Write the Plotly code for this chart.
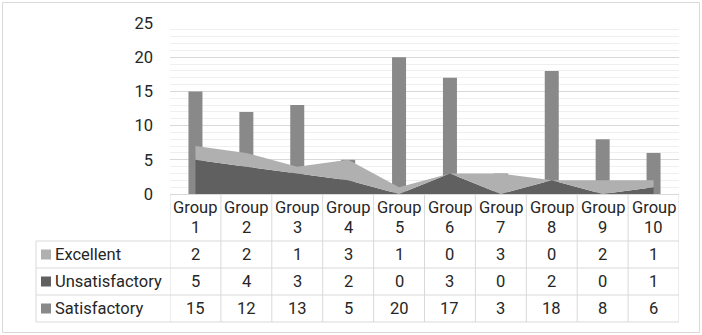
import plotly.graph_objects as go

groups = ["Group 1", "Group 2", "Group 3", "Group 4", "Group 5",
          "Group 6", "Group 7", "Group 8", "Group 9", "Group 10"]
excellent = [2, 2, 1, 3, 1, 0, 3, 0, 2, 1]
unsatisfactory = [5, 4, 3, 2, 0, 3, 0, 2, 0, 1]
satisfactory = [15, 12, 13, 5, 20, 17, 3, 18, 8, 6]
series_names = ["Excellent", "Unsatisfactory", "Satisfactory"]
series_colors = ["#b0b0b0", "#606060", "#898989"]
series_values = [excellent, unsatisfactory, satisfactory]

W, H = 702, 335
L, R, T, B = 170, 679, 23, 194
FONT = "Roboto"
FS = 16.5
TXT = "#262626"
GRID = "#d9d9d9"

xs = list(range(len(groups)))

fig = go.Figure()
fig.add_trace(go.Scatter(x=xs, y=unsatisfactory, stackgroup="a", mode="none",
                         fillcolor=series_colors[1], name="Unsatisfactory"))
fig.add_trace(go.Scatter(x=xs, y=excellent, stackgroup="a", mode="none",
                         fillcolor=series_colors[0], name="Excellent"))
fig.add_trace(go.Bar(x=xs, y=satisfactory, width=0.275, marker_color=series_colors[2],
                     marker_line_width=0, name="Satisfactory"))


def py2paper(py):
    return (B - py) / (B - T)


def px2paper(px):
    return (px - L) / (R - L)


shapes = []
line = dict(color=GRID, width=1)
# outer border
shapes.append(dict(type="rect", xref="paper", yref="paper",
                   x0=px2paper(2.5), x1=px2paper(699.5), y0=py2paper(332.5), y1=py2paper(2.5),
                   line=line, layer="below"))
# table horizontal lines
for py in [241, 268, 295, 322]:
    shapes.append(dict(type="line", xref="paper", yref="paper",
                       x0=px2paper(36), x1=1, y0=py2paper(py), y1=py2paper(py), line=line))
# table vertical lines
shapes.append(dict(type="line", xref="paper", yref="paper",
                   x0=px2paper(36), x1=px2paper(36), y0=py2paper(241), y1=py2paper(322), line=line))
for i in range(len(groups) + 1):
    shapes.append(dict(type="line", xref="x", yref="paper",
                       x0=i - 0.5, x1=i - 0.5, y0=0, y1=py2paper(322), line=line))

annotations = []
font = dict(family=FONT, size=FS, color=TXT)
for i, g in enumerate(groups):
    word, num = g.split(" ")
    annotations.append(dict(x=i, y=py2paper(207), xref="x", yref="paper", text=word,
                            showarrow=False, font=font, xanchor="center", yanchor="middle"))
    annotations.append(dict(x=i, y=py2paper(227), xref="x", yref="paper", text=num,
                            showarrow=False, font=font, xanchor="center", yanchor="middle"))
row_y = [254.5, 281.5, 308.5]
for r, (name, col, vals) in enumerate(zip(series_names, series_colors, series_values)):
    yc = py2paper(row_y[r])
    shapes.append(dict(type="rect", xref="paper", yref="paper",
                       x0=px2paper(41), x1=px2paper(51), y0=py2paper(row_y[r] + 5),
                       y1=py2paper(row_y[r] - 5), fillcolor=col, line=dict(width=0)))
    annotations.append(dict(x=px2paper(53), y=yc, xref="paper", yref="paper", text=name,
                            showarrow=False, font=font, xanchor="left", yanchor="middle"))
    for i, v in enumerate(vals):
        annotations.append(dict(x=i, y=yc, xref="x", yref="paper", text=str(v),
                                showarrow=False, font=font, xanchor="center", yanchor="middle"))

fig.update_layout(
    width=W, height=H,
    margin=dict(l=L, r=W - R, t=T, b=H - B, pad=0),
    paper_bgcolor="white", plot_bgcolor="white",
    showlegend=False,
    font=dict(family=FONT, size=FS, color=TXT),
    xaxis=dict(range=[-0.5, 9.5], showticklabels=False, showgrid=False, zeroline=False,
               showline=True, linecolor=GRID, linewidth=1, fixedrange=True),
    yaxis=dict(range=[0, 25], dtick=5, showgrid=True, gridcolor=GRID, gridwidth=1,
               zeroline=False, showline=False, ticklabelstandoff=16, fixedrange=True,
               tickfont=dict(family=FONT, size=FS, color=TXT),
               minor=dict(dtick=1, showgrid=True, gridcolor="#efefef", gridwidth=1)),
    shapes=shapes, annotations=annotations,
)

fig.write_html("out.html", config={"displayModeBar": False},
               post_script="document.body.style.margin='0px';")
